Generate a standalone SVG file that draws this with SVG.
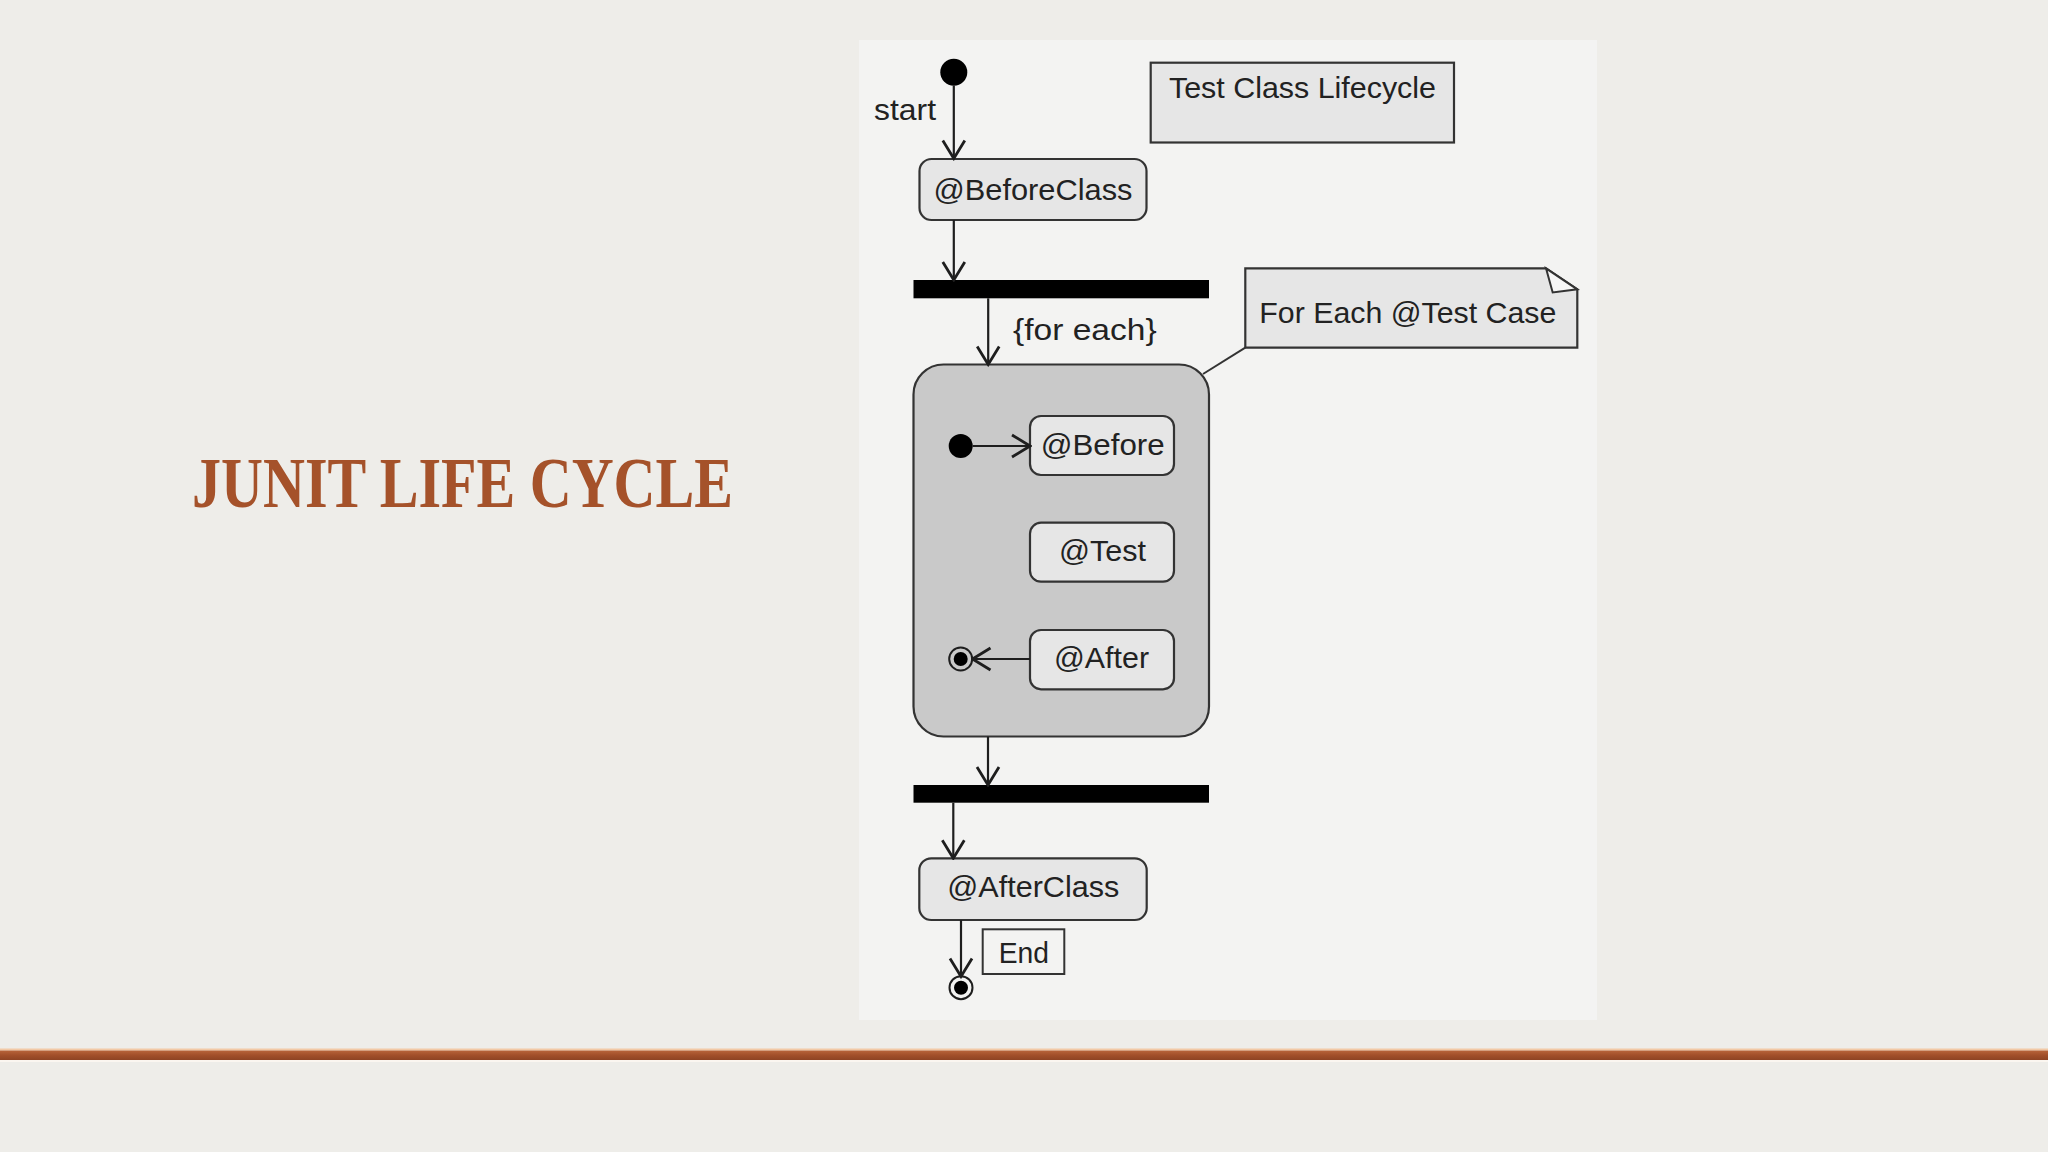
<svg xmlns="http://www.w3.org/2000/svg" width="2048" height="1152" viewBox="0 0 2048 1152">
  <defs>
    <marker id="arr" viewBox="0 0 22 26" refX="20" refY="13" markerWidth="22" markerHeight="26" markerUnits="userSpaceOnUse" orient="auto">
      <path d="M2,2 L20,13 L2,24" fill="none" stroke="#1e1e1e" stroke-width="2.8" stroke-linejoin="miter"/>
    </marker>
    <linearGradient id="barg" x1="0" y1="0" x2="0" y2="1">
      <stop offset="0" stop-color="#b8643a"/>
      <stop offset="0.5" stop-color="#a24f2a"/>
      <stop offset="1" stop-color="#8e4424"/>
    </linearGradient>
  </defs>
  <style>
    .lbl { font-family: "Liberation Sans", Arial, sans-serif; font-size: 30px; fill: #222; }
    .box { fill: #e6e6e6; stroke: #333; stroke-width: 2.2; }
    .edge { fill: none; stroke: #1e1e1e; stroke-width: 2.2; marker-end: url(#arr); }
    .bar { fill: #000; }
    .dot { fill: #000; }
  </style>

  <!-- background -->
  <rect x="0" y="0" width="2048" height="1152" fill="#eeede9"/>
  <rect x="859" y="40" width="738" height="980" fill="#f3f3f2"/>

  <!-- title -->
  <text id="title" x="192" y="507" font-family="'Liberation Serif', 'DejaVu Serif', serif" font-weight="bold" font-size="72" fill="#a5522a" textLength="541" lengthAdjust="spacingAndGlyphs">JUNIT LIFE CYCLE</text>

  <!-- bottom rule -->
  <rect x="0" y="1048.5" width="2048" height="2" fill="#f2c9a6"/>
  <rect x="0" y="1050.5" width="2048" height="9.5" fill="url(#barg)"/>
  <rect x="0" y="1060" width="2048" height="2" fill="#fbf6f0"/>

  <!-- start -->
  <g id="start">
    <circle class="dot" cx="953.8" cy="72.3" r="13.5"/>
    <text class="lbl" x="874" y="120" textLength="62" lengthAdjust="spacingAndGlyphs">start</text>
  </g>

  <!-- Test Class Lifecycle frame label -->
  <g id="lifecycle-label">
    <rect x="1150.7" y="62.7" width="303.3" height="79.8" fill="#e6e6e6" stroke="#333" stroke-width="2.2"/>
    <text class="lbl" x="1169" y="98.3" textLength="267" lengthAdjust="spacingAndGlyphs">Test Class Lifecycle</text>
  </g>

  <!-- BeforeClass -->
  <g id="beforeclass">
    <rect class="box" x="919.5" y="159" width="227" height="61" rx="12" ry="12"/>
    <text class="lbl" x="933.5" y="200" textLength="199" lengthAdjust="spacingAndGlyphs">@BeforeClass</text>
  </g>

  <!-- fork bar -->
  <g id="fork">
    <rect class="bar" x="913.5" y="280" width="295.5" height="18.3"/>
  </g>
  <g id="foreach-label">
    <text class="lbl" x="1013" y="340" textLength="143.6" lengthAdjust="spacingAndGlyphs">{for each}</text>
  </g>

  <!-- note -->
  <g id="note">
    <path d="M1245.3,268.3 H1546 L1577.3,289.3 V347.7 H1245.3 Z" fill="#e6e6e6" stroke="#333" stroke-width="2.2"/>
    <path d="M1546,268.3 L1552.7,292.5 L1577.3,289.3 Z" fill="#f6f6f6" stroke="#333" stroke-width="2"/>
    <text class="lbl" x="1259.3" y="323.3" textLength="297" lengthAdjust="spacingAndGlyphs">For Each @Test Case</text>
  </g>

  <!-- composite -->
  <g id="testcase">
    <rect x="913.5" y="364.5" width="295.5" height="372" rx="30" ry="30" fill="#c9c9c9" stroke="#333" stroke-width="2.2"/>
  </g>
  <g id="inner-start">
    <circle class="dot" cx="960.7" cy="446" r="12"/>
  </g>
  <g id="before">
    <rect class="box" x="1030" y="416" width="144" height="59" rx="11" ry="11"/>
    <text class="lbl" x="1040.7" y="455" textLength="124" lengthAdjust="spacingAndGlyphs">@Before</text>
  </g>
  <g id="test">
    <rect class="box" x="1030" y="522.7" width="144" height="59" rx="11" ry="11"/>
    <text class="lbl" x="1059" y="560.7" textLength="87" lengthAdjust="spacingAndGlyphs">@Test</text>
  </g>
  <g id="after">
    <rect class="box" x="1030" y="630" width="144" height="59.3" rx="11" ry="11"/>
    <text class="lbl" x="1054" y="668.3" textLength="95" lengthAdjust="spacingAndGlyphs">@After</text>
  </g>
  <g id="inner-end">
    <circle cx="960.7" cy="659" r="11.5" fill="none" stroke="#1e1e1e" stroke-width="2"/>
    <circle class="dot" cx="960.7" cy="659" r="7"/>
  </g>

  <!-- join bar -->
  <g id="join">
    <rect class="bar" x="913.5" y="785" width="295.5" height="17.7"/>
  </g>

  <!-- AfterClass -->
  <g id="afterclass">
    <rect class="box" x="919.3" y="858.3" width="227.4" height="61.7" rx="12" ry="12"/>
    <text class="lbl" x="947.3" y="896.7" textLength="172" lengthAdjust="spacingAndGlyphs">@AfterClass</text>
  </g>

  <!-- End label -->
  <g id="end-label">
    <rect x="982.7" y="929.3" width="81.6" height="44.7" fill="#f3f3f2" stroke="#333" stroke-width="2"/>
    <text class="lbl" x="998.7" y="962.7" font-size="29" textLength="50.3" lengthAdjust="spacingAndGlyphs">End</text>
  </g>

  <!-- final -->
  <g id="end">
    <circle cx="961" cy="987.7" r="11.5" fill="#f3f3f2" stroke="#1e1e1e" stroke-width="2"/>
    <circle class="dot" cx="961" cy="987.7" r="7"/>
  </g>

  <!-- connectors -->
  <g id="connectors">
    <line class="edge" x1="953.8" y1="85.5" x2="953.8" y2="158.5"/>
    <line class="edge" x1="953.8" y1="220" x2="953.8" y2="280"/>
    <line class="edge" x1="988.2" y1="298.3" x2="988.2" y2="364.5"/>
    <line class="edge" x1="972.5" y1="446" x2="1030" y2="446"/>
    <line class="edge" x1="1030" y1="659" x2="972.5" y2="659"/>
    <line class="edge" x1="988" y1="736.7" x2="988" y2="785"/>
    <line class="edge" x1="953.3" y1="802.7" x2="953.3" y2="858.3"/>
    <line class="edge" x1="961" y1="920" x2="961" y2="976.5"/>
    <line x1="1203" y1="374" x2="1245.3" y2="347.7" stroke="#333" stroke-width="2"/>
  </g>
</svg>
